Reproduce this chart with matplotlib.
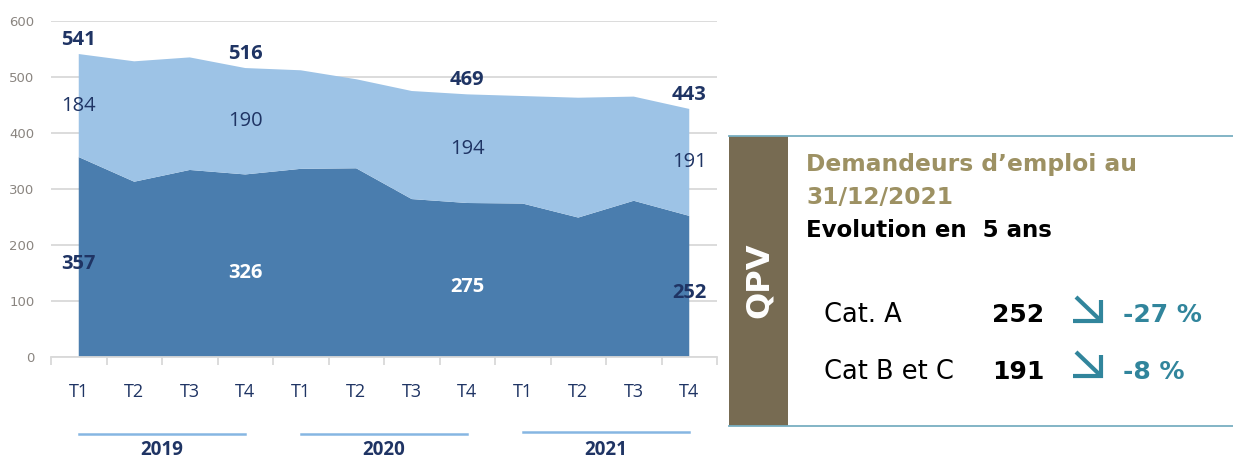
import matplotlib
matplotlib.use("Agg")
import matplotlib.pyplot as plt
import numpy as np
from matplotlib.patches import Rectangle
from matplotlib.lines import Line2D
import matplotlib.transforms as mtransforms

# ---------------- data ----------------
quarters = ["T1", "T2", "T3", "T4", "T1", "T2", "T3", "T4", "T1", "T2", "T3", "T4"]
years = ["2019", "2020", "2021"]
cat_a = [357, 313, 334, 326, 336, 337, 282, 275, 274, 249, 279, 252]
cat_bc = [184, 215, 201, 190, 176, 159, 193, 194, 192, 214, 186, 191]
labelled_idx = [0, 3, 7, 11]

panel_side = "QPV"
panel_title = ["Demandeurs d\u2019emploi au", "31/12/2021"]
panel_sub = "Evolution en  5 ans"
panel_rows = ["Cat. A", "Cat B et C"]
panel_vals = ["252", "191"]
panel_pct = ["-27 %", "-8 %"]

# ---------------- styles ----------------
W, H = 1233, 463
DARK = "#4A7DAE"
LIGHT = "#9DC3E6"
NAVY = "#1F3464"
GRID = "#D9D9D9"
TEAL = "#31859C"
OLIVE = "#9D9163"
BROWN = "#776B52"
LINE = "#78AFC2"
LFONT = "Open Sans"

def fx(px):
    return px / W

def fy(py):
    return 1 - py / H

fig = plt.figure(figsize=(W / 100, H / 100), dpi=100)
ax = fig.add_axes([fx(51), fy(357), (717 - 51) / W, (357 - 21) / H])

x = np.arange(len(quarters))
dark = np.array(cat_a)
light = np.array(cat_bc)
total = dark + light

ax.stackplot(x, dark, light, colors=[DARK, LIGHT], linewidth=0, zorder=2)
ax.set_xlim(-0.5, len(quarters) - 0.5)
ax.set_ylim(0, 600)

ax.set_yticks(np.arange(0, 700, 100))
ax.yaxis.grid(True, color=GRID, linewidth=1.3, zorder=0)
ax.set_axisbelow(True)
ax.tick_params(axis="y", length=0, pad=12, labelsize=9.5, labelcolor="#8A8580")
for spine in ["top", "right", "left"]:
    ax.spines[spine].set_visible(False)
ax.spines["bottom"].set_color(GRID)
ax.spines["bottom"].set_linewidth(1.3)

ax.set_xticks(np.arange(-0.5, len(quarters), 1))
ax.set_xticklabels([])
ax.tick_params(axis="x", length=6, width=1.3, color=GRID)

# quarter labels
tr = mtransforms.blended_transform_factory(ax.transData, ax.transAxes)
for i, q in enumerate(quarters):
    ax.text(i, (357 - 392) / 336, q, transform=tr, ha="center", va="center",
            fontsize=13, color=NAVY, family=LFONT)

# year lines + labels
for k, yname in enumerate(years):
    i0, i1 = 4 * k, 4 * k + 3
    yl = (357 - 434) / 336 if k < 2 else (357 - 432) / 336
    ax.add_line(Line2D([i0, i1], [yl, yl], transform=tr, color="#86B6E2",
                       linewidth=1.8, clip_on=False))
    ax.text((i0 + i1) / 2, (357 - 450) / 336, yname, transform=tr, ha="center",
            va="center", fontsize=13.5, fontweight="bold", color=NAVY, family=LFONT)

# data labels
for n, i in enumerate(labelled_idx):
    ax.annotate(f"{total[i]}", (i, total[i]), xytext=(0, 10), textcoords="offset points",
                ha="center", va="center", fontsize=14.5, fontweight="bold", color=NAVY,
                family=LFONT, annotation_clip=False)
    ax.annotate(f"{light[i]}", (i, dark[i] + light[i] / 2), xytext=(0, 0),
                textcoords="offset points", ha="center", va="center", fontsize=14.5,
                color=NAVY, family=LFONT)
    col = NAVY if n in (0, len(labelled_idx) - 1) else "white"
    ax.annotate(f"{dark[i]}", (i, dark[i] / 2), xytext=(0, -5),
                textcoords="offset points", ha="center", va="center", fontsize=14.5,
                fontweight="bold", color=col, family=LFONT, annotation_clip=False)

# ---------------- right panel ----------------
fig.add_artist(Rectangle((fx(729), fy(426)), (788 - 729) / W, (426 - 136) / H,
                         transform=fig.transFigure, facecolor=BROWN, edgecolor="none"))
for py in (136, 426):
    fig.add_artist(Line2D([fx(729), fx(1233)], [fy(py), fy(py)], transform=fig.transFigure,
                          color=LINE, linewidth=1.3))

fig.text(fx(759), fy(280), panel_side, rotation=90, ha="center", va="center",
         fontsize=23, fontweight="bold", color="white", family="DejaVu Sans")

fig.text(fx(806), fy(165), panel_title[0], ha="left", va="center", fontsize=16.8,
         fontweight="bold", color=OLIVE, family="DejaVu Sans")
fig.text(fx(806), fy(197), panel_title[1], ha="left", va="center", fontsize=16.8,
         fontweight="bold", color=OLIVE, family="DejaVu Sans")
fig.text(fx(806), fy(230), panel_sub, ha="left", va="center", fontsize=16.5,
         fontweight="bold", color="black", family="DejaVu Sans")

row_y = [315, 372]
for r in range(len(panel_rows)):
    yy = row_y[r]
    fig.text(fx(824), fy(yy), panel_rows[r], ha="left", va="center", fontsize=18.5,
             color="black", family="DejaVu Sans")
    fig.text(fx(1018), fy(yy), panel_vals[r], ha="center", va="center", fontsize=18,
             fontweight="bold", color="black", family="DejaVu Sans")
    fig.text(fx(1123), fy(yy), panel_pct[r], ha="left", va="center", fontsize=18,
             fontweight="bold", color=TEAL, family="DejaVu Sans")
    dy = yy - 315 - 2 * r
    # arrow glyph drawn as lines
    fig.add_artist(Line2D([fx(1076), fx(1099)], [fy(297 + dy), fy(319 + dy)],
                          transform=fig.transFigure, color=TEAL, linewidth=3,
                          solid_capstyle="butt"))
    fig.add_artist(Line2D([fx(1073), fx(1101), fx(1101)],
                          [fy(321 + dy), fy(321 + dy), fy(300 + dy)],
                          transform=fig.transFigure, color=TEAL, linewidth=3,
                          solid_capstyle="butt", solid_joinstyle="miter"))

fig.savefig("out.png", dpi=100)
